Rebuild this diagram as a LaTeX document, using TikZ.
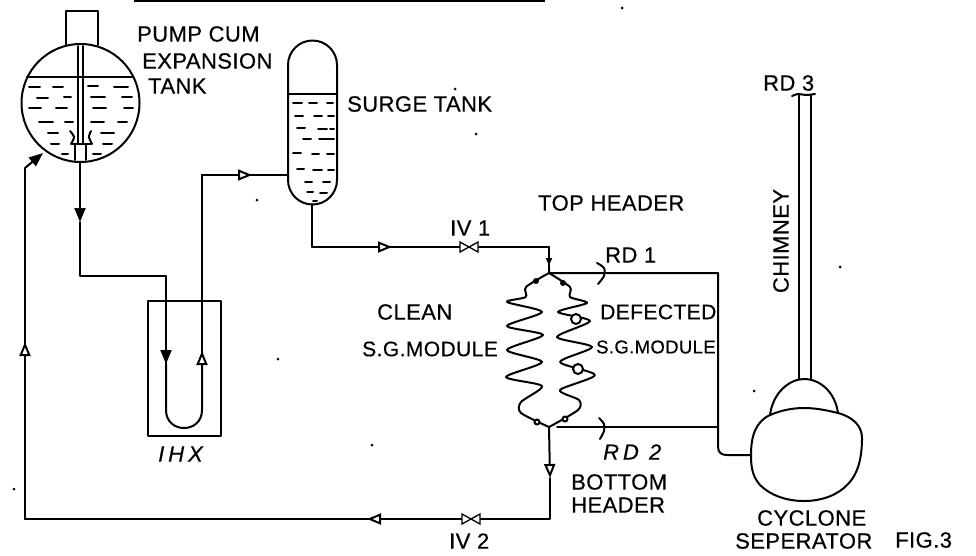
\documentclass[tikz,border=0pt]{standalone}
\usepackage{fontspec}
\usepackage{tikz}
\usetikzlibrary{arrows.meta}
\setmainfont[FakeBold=0.5,LetterSpace=2]{Liberation Sans}
\tikzset{
	pipe/.style={line width=2pt,line join=round,line cap=round},
	flow/.style={-{Triangle[open,length=14pt,width=11pt,fill=white]}},
	flowdark/.style={-{Triangle[length=14pt,width=11pt]}},
	lbl/.style={anchor=west,inner sep=0pt,font=\fontsize{22}{24}\selectfont},
	lblmid/.style={lbl,font=\fontsize{21}{24}\selectfont},
	lblsmall/.style={lbl,font=\fontsize{18.5}{22}\selectfont},
	lblital/.style={lbl,font=\fontsize{22}{24}\selectfont\itshape\addfontfeature{LetterSpace=18}},
}
\begin{document}
\begin{tikzpicture}[x=1pt,y=-1pt]
	\useasboundingbox (0,0) rectangle (976,555);

	% Define the points of the loop
	\coordinate (tankout) at (80,162);
	\coordinate (tankarrow) at (80,222);
	\coordinate (ihxa) at (80,276);
	\coordinate (ihxb) at (166,276);
	\coordinate (ihxdown) at (166,364);
	\coordinate (uleft) at (166,410);
	\coordinate (uright) at (202,410);
	\coordinate (ihxup) at (202,351);
	\coordinate (risera) at (202,175);
	\coordinate (surgearrow) at (252,175);
	\coordinate (surgein) at (288,175);
	\coordinate (surgeout) at (312,204);
	\coordinate (surgec) at (312,247);
	\coordinate (ivarrow) at (392,247);
	\coordinate (ivone) at (469,247);
	\coordinate (headc) at (549,247);
	\coordinate (headarrow) at (549,267);
	\coordinate (tophead) at (549,273);
	\coordinate (rdonee) at (718,273);
	\coordinate (bothead) at (549,427);
	\coordinate (botarrow) at (550,478);
	\coordinate (botc) at (550,519);
	\coordinate (ivtwo) at (471,519);
	\coordinate (retarrow) at (367,519);
	\coordinate (retc) at (25,519);
	\coordinate (retup) at (25,342);
	\coordinate (retd) at (25,168);
	\coordinate (tankin) at (43,153);
	\coordinate (rdtwos) at (557,427);
	\coordinate (rdtwoe) at (718,427);
	\coordinate (cycin) at (751,455);

	% Draw the pump cum expansion tank
	\draw[pipe] (66,45) -- (66,11) -- (98,11) -- (98,45);
	\draw[pipe] (80.5,103) circle[radius=59];
	\draw[pipe] (27,77) -- (133,77);
	\draw[pipe] (78,46) -- (78,144);
	\draw[pipe] (83,46) -- (83,144);
	\draw[pipe] (72,144) -- (91,144);
	\draw[pipe] (75,144) -- (75,160);
	\draw[pipe] (86,144) -- (86,160);
	\draw[pipe] plot[smooth] coordinates {(70,131) (74,137) (71,144)};
	\draw[pipe] plot[smooth] coordinates {(91,131) (89,137) (92,144)};
	\foreach \xa/\xb/\yy in {29/40/87,53/63/87,88/98/86,114/128/87,37/48/98,64/71/97,91/105/97,122/132/97,29/41/108,56/67/108,93/106/108,124/133/108,39/53/122,65/73/122,91/104/122,118/127/122,48/58/133,101/114/133,51/59/144,103/112/144,62/68/154,93/101/154}
		\draw[pipe] (\xa,\yy) -- (\xb,\yy);

	% Draw the surge tank
	\draw[pipe] (288,65) arc[start angle=180,end angle=360,radius=24.5] -- (337,180) arc[start angle=0,end angle=180,radius=24.5] -- cycle;
	\draw[pipe] (288,94) -- (337,94);
	\foreach \xa/\xb/\yy in {293/302/103,309/317/103,327/333/103,295/303/116,314/322/116,328/334/116,297/305/128,318/327/129,330/334/129,303/311/139,319/334/139,293/301/153,312/319/154,327/334/154,297/304/169,313/322/170,328/334/170,305/312/182,323/330/182,307/313/192,320/327/193,313/317/201}
		\draw[pipe] (\xa,\yy) -- (\xb,\yy);

	% Draw the heat exchanger
	\draw[pipe] (148,301) rectangle (221,436);

	% Draw the pipes of the loop
	\draw[pipe,flowdark] (tankout) -- (tankarrow);
	\draw[pipe] (tankarrow) -- (ihxa) -- (ihxb) -- (ihxdown);
	\draw[pipe,flowdark] (ihxb) -- (ihxdown);
	\draw[pipe] (ihxdown) -- (uleft) .. controls (166,422) and (175,428) .. (184,428) .. controls (193,428) and (202,422) .. (uright) -- (ihxup);
	\draw[pipe,flow] (uright) -- (ihxup);
	\draw[pipe] (ihxup) -- (risera) -- (surgearrow);
	\draw[pipe,flow] (risera) -- (surgearrow);
	\draw[pipe] (surgearrow) -- (surgein);
	\draw[pipe] (surgeout) -- (surgec) -- (ivarrow);
	\draw[pipe,flow] (surgec) -- (ivarrow);
	\draw[pipe] (ivarrow) -- (ivone) -- (headc) -- (headarrow);
	\draw[pipe,-{Latex[length=9pt,width=7pt]}] (headc) -- (headarrow);
	\draw[pipe] (headarrow) -- (tophead) -- (rdonee) -- (rdtwoe) -- (718,447) .. controls (718,453) and (722,455) .. (727,455) -- (cycin);
	\draw[pipe] (rdtwos) -- (rdtwoe);
	\draw[pipe,flow] (bothead) -- (botarrow);
	\draw[pipe] (botarrow) -- (botc) -- (ivtwo) -- (retarrow);
	\draw[pipe,flow] (ivtwo) -- (retarrow);
	\draw[pipe] (retarrow) -- (retc) -- (retup);
	\draw[pipe,flow] (retc) -- (retup);
	\draw[pipe] (retup) -- (retd);
	\draw[pipe,flowdark] (retd) -- (tankin);

	% Draw the two valves
	\draw[line width=1.3pt,fill=white] (460,242) -- (478,252) -- (478,242) -- (460,252) -- cycle;
	\draw[line width=1.3pt,fill=white] (462,514) -- (480,524) -- (480,514) -- (462,524) -- cycle;

	% Draw the clean module
	\draw[pipe] plot[smooth,tension=.45] coordinates {(tophead) (526,287) (525.7,297) (507,302) (542,312) (507,326) (543,335) (507,350) (542,362) (506,377) (542,386) (521,402) (521,413) (bothead)};
	% Draw the defected module
	\draw[pipe] plot[smooth,tension=.45] coordinates {(tophead) (570,287) (570,297) (587,303) (558,312) (590,321) (557,337) (592,347) (560,362) (595,375) (560,390) (579,400) (578,410) (bothead)};
	\draw[pipe,fill=white] (576,319) circle[radius=5];
	\draw[pipe,fill=white] (578,369) circle[radius=5];
	\fill (536,281) circle[radius=3];
	\fill (563,283) circle[radius=3];
	\draw[pipe,fill=white] (537,422) circle[radius=2.5];
	\draw[pipe,fill=white] (565,419) circle[radius=2.5];

	% Draw the rupture discs
	\draw[pipe] plot[smooth] coordinates {(597,263) (604,268) (604,276) (598,284)};
	\draw[pipe] plot[smooth] coordinates {(599,418) (604,424) (604,431) (600,439)};
	\draw[pipe] plot[smooth] coordinates {(792,96) (798,94) (806,95) (815,94)};

	% Draw the cyclone and the chimney
	\draw[pipe] (770,415) .. controls (782,410) and (793,408) .. (804,408) .. controls (815,408) and (826,410) .. (838,413) .. controls (853,417) and (862,426) .. (862,438) .. controls (862,452) and (860,472) .. (848,484) .. controls (838,495) and (822,501) .. (804,501) .. controls (786,501) and (770,495) .. (760,485) .. controls (752,476) and (751,466) .. (751,455) .. controls (751,437) and (755,422) .. (770,415) -- cycle;
	\draw[pipe] (770,415) .. controls (773,392) and (790,379) .. (804,379) .. controls (820,379) and (835,392) .. (838,413);
	\draw[pipe] (799,95) -- (799,379);
	\draw[pipe] (811,95) -- (811,379);

	% Scanning marks
	\draw[line width=2pt] (134,0.5) -- (545,0.5);
	\foreach \px/\py in {257/200,14/489,372/445,622/8,476/134,455/89,278/359,754/391,840/267}
		\fill (\px,\py) circle[radius=1.5];

	% Labels
	\node[lbl] (lblpump) at (137,34) {PUMP CUM};
	\node[lbl] (lblexp) at (142,61) {EXPANSION};
	\node[lbl] (lbltank) at (148,86) {TANK};
	\node[lbl] (lblsurge) at (347,104) {SURGE TANK};
	\node[lbl] (lbltop) at (538,203) {TOP HEADER};
	\node[lbl] (lblivone) at (450,228) {IV 1};
	\node[lbl] (lblrdone) at (605,255) {RD 1};
	\node[lbl] (lblclean) at (377,312) {CLEAN};
	\node[lblmid] (lblmodl) at (362,349) {S.G.MODULE};
	\node[lblmid] (lbldef) at (600,312) {DEFECTED};
	\node[lblsmall] (lblmodr) at (596,347) {S.G.MODULE};
	\node[lblital] (lblrdtwo) at (603,452) {RD 2};
	\node[lbl] (lblbot) at (571,482) {BOTTOM};
	\node[lbl] (lblhead) at (571,505) {HEADER};
	\node[lblital] (lblihx) at (158,454) {IHX};
	\node[lbl] (lblivtwo) at (449,541) {IV 2};
	\node[lbl] (lblcyc) at (757,518) {CYCLONE};
	\node[lbl] (lblsep) at (735,541) {SEPERATOR};
	\node[lbl] (lblfig) at (895,540) {FIG.3};
	\node[lbl] (lblrdthree) at (763,83) {RD 3};
	\node[lbl,rotate=90,anchor=center] (lblchim) at (781,241) {CHIMNEY};
\end{tikzpicture}
\end{document}
